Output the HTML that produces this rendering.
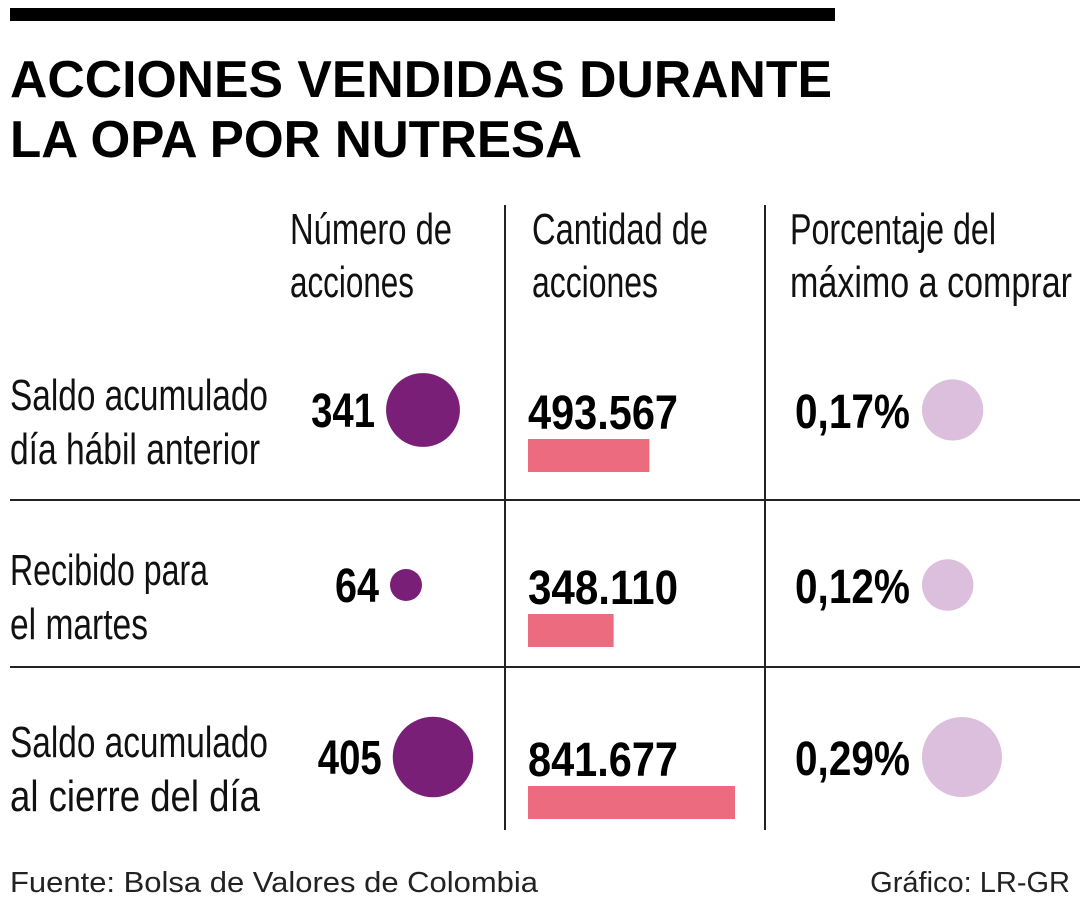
<!DOCTYPE html>
<html><head><meta charset="utf-8"><style>
html,body{margin:0;padding:0;background:#fff;}
svg{display:block;font-family:"Liberation Sans",sans-serif;}
.t{font-weight:bold;font-size:52px;fill:#000;}
.h{font-size:44px;fill:#111;}
.l{font-size:44px;fill:#111;}
.v{font-weight:bold;font-size:48px;fill:#000;}
.f{font-size:29px;fill:#222;}
</style></head><body>
<svg id="chart" width="1080" height="900" viewBox="0 0 1080 900">
<rect x="10" y="8" width="825" height="13" fill="#000"/>
<text class="t" x="10" y="97" textLength="822" lengthAdjust="spacingAndGlyphs">ACCIONES VENDIDAS DURANTE</text>
<text class="t" x="10" y="157" textLength="572" lengthAdjust="spacingAndGlyphs">LA OPA POR NUTRESA</text>
<g>
<text class="h" x="290" y="244" textLength="162" lengthAdjust="spacingAndGlyphs">Número de</text>
<text class="h" x="290" y="297" textLength="124" lengthAdjust="spacingAndGlyphs">acciones</text>
<text class="h" x="532" y="244" textLength="176" lengthAdjust="spacingAndGlyphs">Cantidad de</text>
<text class="h" x="532" y="297" textLength="126" lengthAdjust="spacingAndGlyphs">acciones</text>
<text class="h" x="790" y="244" textLength="206" lengthAdjust="spacingAndGlyphs">Porcentaje del</text>
<text class="h" x="790" y="297" textLength="282" lengthAdjust="spacingAndGlyphs">máximo a comprar</text>
</g>
<line x1="505" y1="205" x2="505" y2="830" stroke="#222" stroke-width="2"/>
<line x1="765" y1="205" x2="765" y2="830" stroke="#222" stroke-width="2"/>
<line x1="10" y1="500" x2="1080" y2="500" stroke="#222" stroke-width="2"/>
<line x1="10" y1="667" x2="1080" y2="667" stroke="#222" stroke-width="2"/>
<g id="rows"></g>
<text class="f" x="10" y="892" textLength="528" lengthAdjust="spacingAndGlyphs">Fuente: Bolsa de Valores de Colombia</text>
<text class="f" x="1070" y="892" text-anchor="end">Gráfico: LR-GR</text>
</svg>
<script>
const labels1=["Saldo acumulado","Recibido para","Saldo acumulado"];
const labels2=["día hábil anterior","el martes","al cierre del día"];
const numAcciones=[341,64,405];
const cantidad=[493567,348110,841677];
const cantidadTxt=["493.567","348.110","841.677"];
const porcentaje=[0.17,0.12,0.29];
const porcentajeTxt=["0,17%","0,12%","0,29%"];
const NS="http://www.w3.org/2000/svg";
const g=document.getElementById('rows');
const rowY=[410,585,757];
const rNum=v=>2.0*Math.sqrt(v);
const wBar=v=>207*v/841677;
const rPct=v=>40*Math.sqrt(v/0.29);
function mk(tag,attrs,txt){const e=document.createElementNS(NS,tag);for(const k in attrs)e.setAttribute(k,attrs[k]);if(txt!==undefined)e.textContent=txt;g.appendChild(e);return e;}
for(let i=0;i<3;i++){
 const cy=rowY[i];
 const a=mk('text',{class:'l',x:10,y:cy,textLength:i==1?198:258,lengthAdjust:'spacingAndGlyphs'},labels1[i]);
 
 
 const b=mk('text',{class:'l',x:10,y:cy+54,textLength:i==1?138:250,lengthAdjust:'spacingAndGlyphs'},labels2[i]);
 
 
 const r=rNum(numAcciones[i]);
 const cx=i==1?406:(i==0?423:433);
 const n=mk('text',{class:'v',x:cx-r-11,y:cy+17,'text-anchor':'end',textLength:i==1?44:64,lengthAdjust:'spacingAndGlyphs'},String(numAcciones[i]));
 
 
 const c=mk('circle',{cx:cx,cy:cy,r:r,fill:'#7a1f77'});
 
 
 const t=mk('text',{class:'v',x:528,y:cy+19,textLength:150,lengthAdjust:'spacingAndGlyphs'},cantidadTxt[i]);
 
 
 const bar=mk('rect',{x:528,y:cy+29,width:wBar(cantidad[i]),height:33,fill:'#ec6b7f'});
 
 
 const p=mk('text',{class:'v',x:795,y:cy+18,textLength:115,lengthAdjust:'spacingAndGlyphs'},porcentajeTxt[i]);
 
 
 const pr=rPct(porcentaje[i]);
 const pc=mk('circle',{cx:922+pr,cy:cy,r:pr,fill:'#dcbfdc'});
 
 
}
</script>
</body></html>
